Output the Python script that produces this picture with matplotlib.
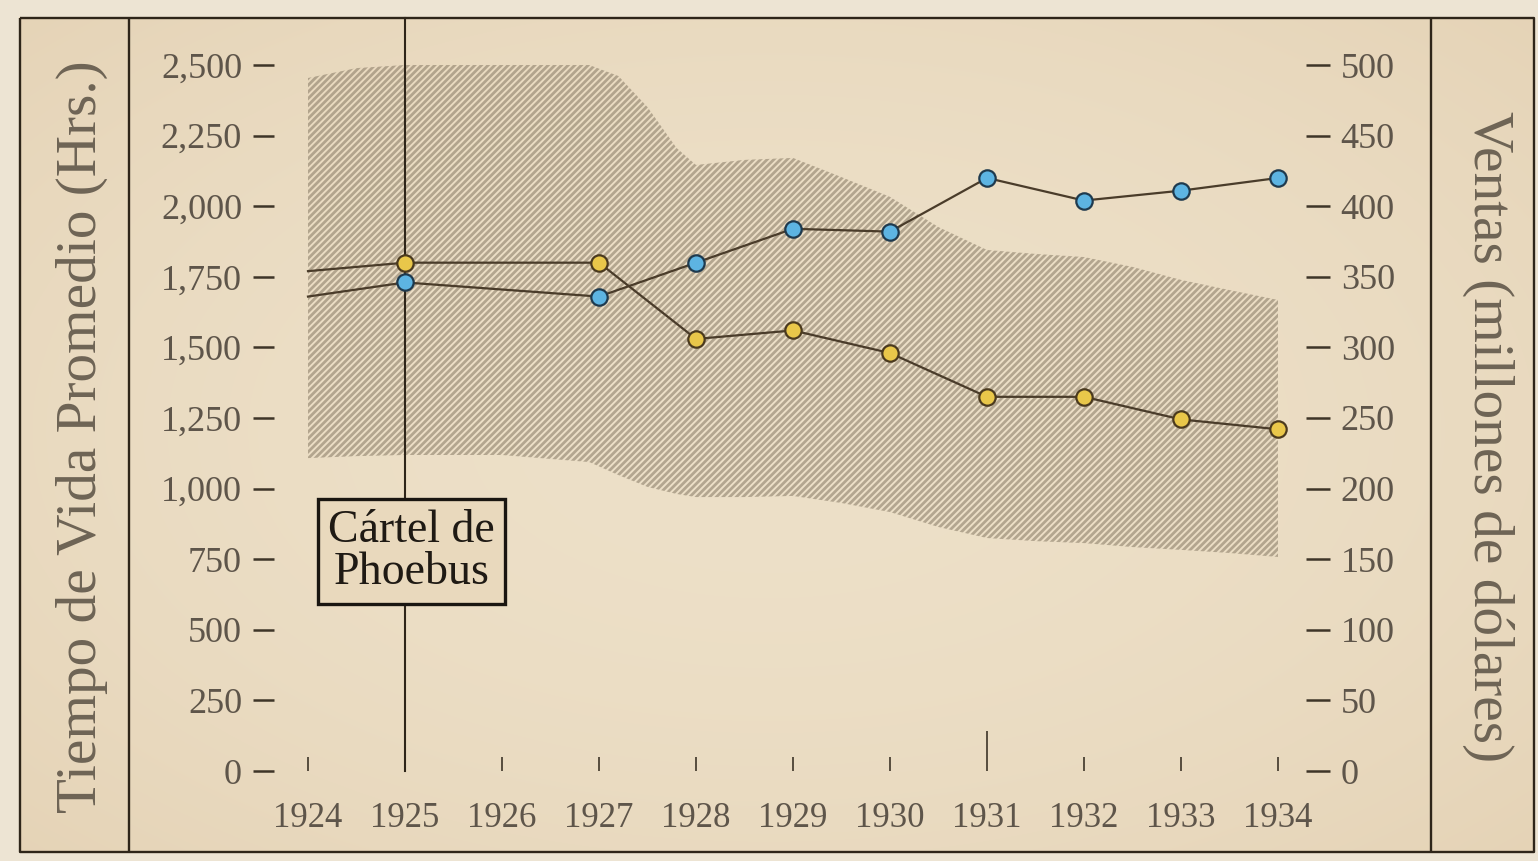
import numpy as np
import matplotlib
matplotlib.use("Agg")
import matplotlib.pyplot as plt

# ---------------- data ----------------
years = [1924, 1925, 1927, 1928, 1929, 1930, 1931, 1932, 1933, 1934]
vida_horas = [1770, 1800, 1800, 1530, 1560, 1480, 1325, 1325, 1245, 1210]
ventas_musd = [336, 346, 336, 360, 384, 382, 420, 404, 411, 420]

band_years = [1924, 1924.5, 1925, 1926, 1926.9, 1927.2, 1927.5, 1927.8, 1928,
              1928.5, 1929, 1929.5, 1930, 1930.5, 1931, 1931.5, 1932, 1932.5,
              1933, 1933.5, 1934]
band_upper = [2454, 2489, 2500, 2500, 2500, 2461, 2351, 2206, 2146, 2164, 2171,
              2103, 2033, 1926, 1845, 1831, 1820, 1785, 1739, 1703, 1668]
band_lower = [1108, 1115, 1119, 1119, 1094, 1048, 1006, 981, 970, 970, 974,
              949, 917, 864, 825, 814, 807, 793, 783, 772, 758]

x_ticks = list(range(1924, 1935))
x_labels = [str(y) for y in x_ticks]
left_ticks = list(range(0, 2501, 250))
left_labels = ["0", "250", "500", "750", "1,000", "1,250", "1,500", "1,750",
               "2,000", "2,250", "2,500"]
right_ticks = list(range(0, 501, 50))
right_labels = [str(v) for v in right_ticks]

cartel_year = 1925
cartel_text = "Cártel de\nPhoebus"
left_title = "Tiempo de Vida Promedio (Hrs.)"
right_title = "Ventas (millones de dólares)"

# ---------------- style ----------------
W, H = 1538, 861
DPI = 200
plt.rcParams["hatch.linewidth"] = 1.0
serif = ["Liberation Serif", "DejaVu Serif"]

ink = "#2e2519"
line_c = "#4a3c2a"
tick_txt = "#5e554a"
title_c = "#6e6455"
yellow = "#e9c74a"
blue = "#5db4e2"
hatch_c = (0.52, 0.47, 0.39, 0.55)

fig = plt.figure(figsize=(W / DPI, H / DPI), dpi=DPI)

# background paper with a soft vignette
bg = fig.add_axes([0, 0, 1, 1], zorder=-1)
gx = np.linspace(0, 1, 308)
gy = np.linspace(0, 1, 172)
XX, YY = np.meshgrid(gx, gy)
rr = ((XX - 0.5) / 0.5) ** 2 * 0.5 + ((YY - 0.5) / 0.5) ** 2 * 0.5
rr = np.clip(rr, 0, 1)
center = np.array([237, 224, 200]) / 255.0
edge = np.array([229, 211, 182]) / 255.0
img = center[None, None, :] * (1 - rr[..., None]) + edge[None, None, :] * rr[..., None]
bg.imshow(img, extent=(0, W, H, 0), aspect="auto", interpolation="bicubic")
bg.set_xlim(0, W)
bg.set_ylim(H, 0)
bg.axis("off")
# light strip outside the frame
outer = "#ede4d3"
bg.fill_between([0, W], 0, 17, color=outer, lw=0)
bg.fill_between([0, W], 853, H, color=outer, lw=0)
bg.fill_between([0, 19], 0, H, color=outer, lw=0)
bg.fill_between([1535, W], 0, H, color=outer, lw=0)
# frame
fr = dict(color=ink, lw=0.85, solid_capstyle="butt")
bg.plot([20, 1534, 1534, 20, 20], [18, 18, 852, 852, 18], **fr)
bg.plot([129, 129], [18, 852], **fr)
bg.plot([1431, 1431], [18, 852], **fr)

# main axes (left scale, hours)
x_left_px, x_right_px = 274, 1306
y_top_px, y_bot_px = 65, 771
px_per_year = 97.0
ax = fig.add_axes([x_left_px / W, (H - y_bot_px) / H,
                   (x_right_px - x_left_px) / W, (y_bot_px - y_top_px) / H])
ax.set_facecolor("none")
ax.set_xlim(1924 - (308 - x_left_px) / px_per_year,
            1934 + (x_right_px - 1278) / px_per_year)
ax.set_ylim(0, 2500)

ax.fill_between(band_years, band_lower, band_upper, facecolor="none",
                edgecolor=hatch_c, hatch="//////////", linewidth=0, zorder=1)

ax.axvline(cartel_year, ymin=0, ymax=(y_bot_px - 18) / (y_bot_px - y_top_px),
           color=ink, lw=0.75, clip_on=False, zorder=2)

ax.plot(years, vida_horas, color=line_c, lw=0.8, marker="o", ms=5.9,
        mfc=yellow, mec="#4b3a1e", mew=0.8,
        markevery=list(range(1, len(years))), zorder=4)

ax.text(cartel_year + 0.07, 777, cartel_text, ha="center", va="center",
        fontsize=16.5, family=serif, color="#1f1a14", linespacing=0.98,
        zorder=6,
        bbox=dict(boxstyle="square,pad=0.22", fc="#e9d9bd", ec="#1a1611",
                  lw=1.2))

for s in ax.spines.values():
    s.set_visible(False)
ax.set_xticks(x_ticks)
ax.set_xticklabels(x_labels, family=serif)
ax.tick_params(axis="x", direction="in", length=5.2, width=0.6, pad=11,
               labelsize=12.5, color="#3e3528", labelcolor=tick_txt)
xt = ax.xaxis.get_major_ticks()
xt[x_ticks.index(1931)].tick1line.set_markersize(14.5)
xt[x_ticks.index(1925)].tick1line.set_visible(False)
ax.set_yticks(left_ticks)
ax.set_yticklabels(left_labels, family=serif)
ax.tick_params(axis="y", direction="out", length=7.5, width=0.9, pad=4,
               labelsize=13, color="#3e3528", labelcolor=tick_txt)

# right scale (sales)
ax2 = ax.twinx()
ax2.set_ylim(0, 500)
ax2.plot(years, ventas_musd, color=line_c, lw=0.8, marker="o", ms=5.9,
         mfc=blue, mec="#1f3a4e", mew=0.8,
         markevery=list(range(1, len(years))), zorder=4)
for s in ax2.spines.values():
    s.set_visible(False)
ax2.set_yticks(right_ticks)
ax2.set_yticklabels(right_labels, family=serif)
ax2.tick_params(axis="y", direction="out", length=8.5, width=0.9, pad=4,
                labelsize=13, color="#3e3528", labelcolor=tick_txt)

# axis titles
fig.text(82 / W, 1 - 437 / H, left_title, rotation=90, ha="center",
         va="center", fontsize=20.6, family=serif, color=title_c)
fig.text(1488 / W, 1 - 437 / H, right_title, rotation=270, ha="center",
         va="center", fontsize=20.6, family=serif, color=title_c)

fig.savefig("out.png", dpi=DPI)
